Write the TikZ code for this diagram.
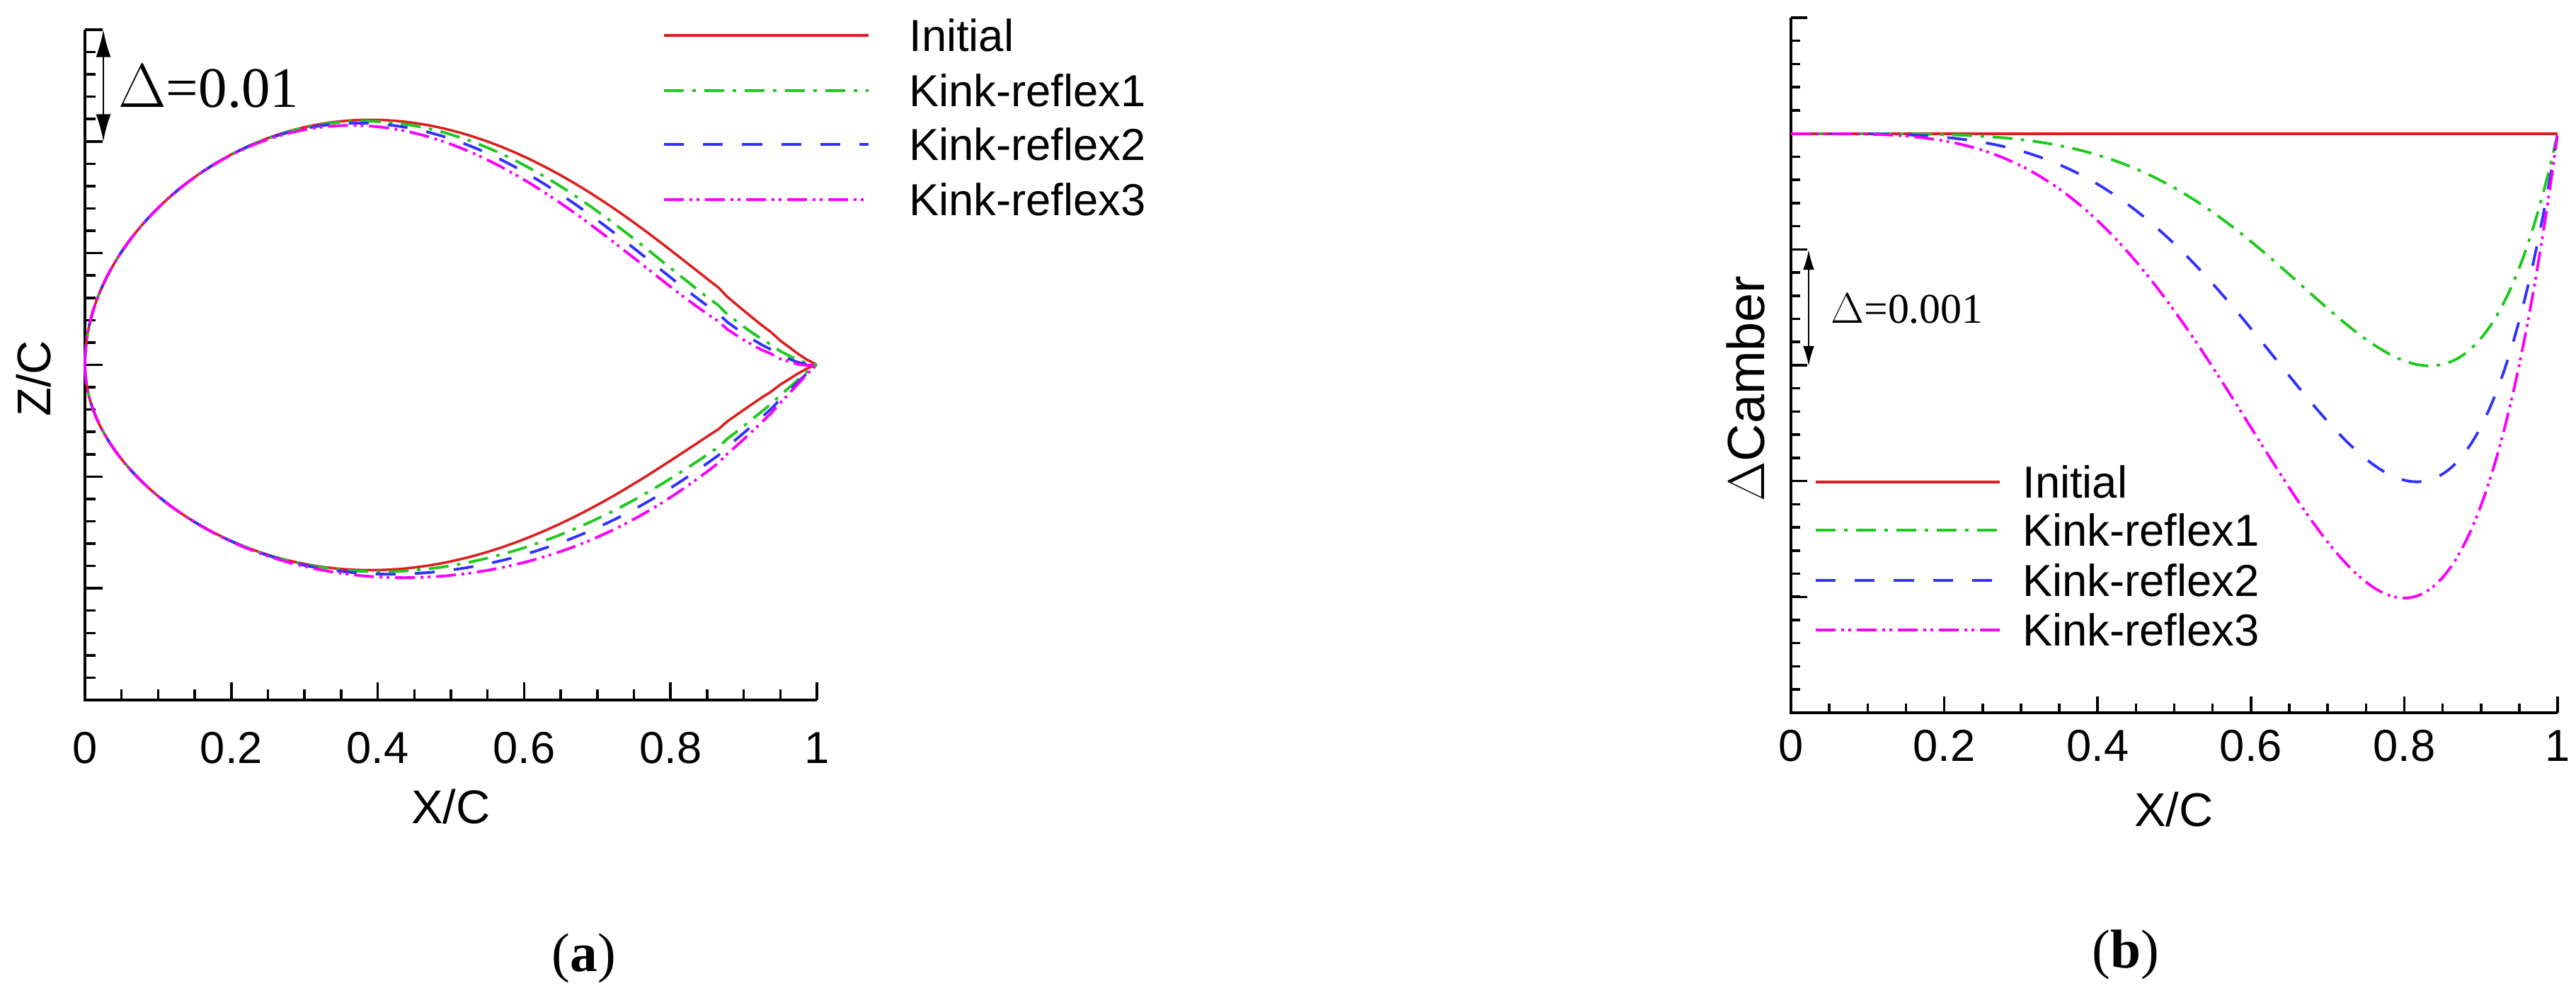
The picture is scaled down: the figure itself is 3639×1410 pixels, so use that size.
\documentclass[tikz,border=0pt]{standalone}
\usepackage{fontspec}
\setmainfont{Liberation Sans}
\newfontfamily\serifd{Liberation Serif}
\usetikzlibrary{arrows.meta}
\definecolor{cred}{RGB}{220,30,30}
\definecolor{cgreen}{RGB}{30,200,30}
\definecolor{cblue}{RGB}{50,50,250}
\definecolor{cmag}{RGB}{250,0,250}
\begin{document}
\begin{tikzpicture}[x=0.01cm,y=-0.01cm,
  declare function={gg(\s)=\s*pow(1-\s*\s,1.25)*(1+1.094*\s*\s)/0.4802;
    dA(\x)=\x*\x*\x*\x*\x*(1-\x)/0.06698;
    dB(\x)=0.5*(\x*\x*\x*\x+\x*\x*\x*\x*\x)*(1-\x)/0.0741;
    dC(\x)=\x*\x*\x*\x*(1-\x)/0.08192;},
  ini/.style={cred,line width=1pt},
  k1/.style={cgreen,line width=1.1pt,dash pattern=on 8pt off 3.4pt on 1.4pt off 3.4pt},
  k2/.style={cblue,line width=1.1pt,dash pattern=on 8pt off 7.7pt},
  k3/.style={cmag,line width=1.1pt,dash pattern=on 8pt off 2.3pt on 1.1pt off 1.7pt on 1.1pt off 2.3pt},
  ax/.style={black,line width=1.4pt},
  tk/.style={black,line width=1pt},
  tl/.style={font=\fontsize{18}{18}\selectfont},
  al/.style={font=\fontsize{19}{19}\selectfont},
  lg/.style={font=\fontsize{18}{18}\selectfont,anchor=west},
  subcap/.style={font=\serifd\fontsize{22}{22}\selectfont}]
\useasboundingbox (0,0) rectangle (3639,1410);
% ---------- left plot ----------
\foreach \i in {0,...,30}{\draw[tk] (120,{42+\i*31.567}) -- (135,{42+\i*31.567});}
\foreach \i in {0,...,6}{\draw[tk] (120,{42+\i*157.83}) -- (145,{42+\i*157.83});}
\foreach \i in {0,...,20}{\draw[tk] ({120+\i*51.7},989) -- ({120+\i*51.7},974);}
\foreach \i/\l in {0/0,1/0.2,2/0.4,3/0.6,4/0.8,5/1}{
  \draw[tk] ({120+\i*206.8},989) -- ({120+\i*206.8},964);
  \node[tl] (lx\i) at ({120+\i*206.8},1057) {\l};}
\draw[ax] (120,42) -- (120,989) -- (1154,989);
\node[al] (lxl) at (637,1140) {X/C};
\node[al,rotate=90] (lyl) at (48,535) {Z/C};
\node[subcap] (la) at (825,1354) {(\textbf{a})};
\coordinate (ta) at (146,42); \coordinate (tb) at (146,200);
\draw[line width=0.7pt,{Latex[length=11pt,width=6pt]}-{Latex[length=11pt,width=6pt]}] (ta) -- (tb);
\node[font=\serifd\fontsize{23}{23}\selectfont,anchor=west] (ld) at (155,122) {$\Delta$=0.01};
% airfoils
\draw[ini] plot[domain=0:0.99995,samples=160,variable=\s] ({120+1034*\s*\s},{515-345.6*gg(\s)}) -- (1154,515);
\draw[ini] plot[domain=0:0.99995,samples=160,variable=\s] ({120+1034*\s*\s},{515+290.4*gg(\s)}) -- (1154,515);
\draw[k1] plot[domain=0:0.99995,samples=160,variable=\s] ({120+1034*\s*\s},{515-345.6*gg(\s)+25.9*dA(\s*\s)}) -- (1154,515);
\draw[k1] plot[domain=0:0.99995,samples=160,variable=\s] ({120+1034*\s*\s},{515+290.4*gg(\s)+25.9*dA(\s*\s)}) -- (1154,515);
\draw[k2] plot[domain=0:0.99995,samples=160,variable=\s] ({120+1034*\s*\s},{515-345.6*gg(\s)+38.8*dB(\s*\s)}) -- (1154,515);
\draw[k2] plot[domain=0:0.99995,samples=160,variable=\s] ({120+1034*\s*\s},{515+290.4*gg(\s)+38.8*dB(\s*\s)}) -- (1154,515);
\draw[k3] plot[domain=0:0.99995,samples=160,variable=\s] ({120+1034*\s*\s},{515-345.6*gg(\s)+51.8*dC(\s*\s)}) -- (1154,515);
\draw[k3] plot[domain=0:0.99995,samples=160,variable=\s] ({120+1034*\s*\s},{515+290.4*gg(\s)+51.8*dC(\s*\s)}) -- (1154,515);
% left legend
\draw[ini] (938,50) -- (1227,50); \node[lg] (l1) at (1272,50) {Initial};
\draw[k1] (938,128) -- (1227,128); \node[lg] (l2) at (1272,128) {Kink-reflex1};
\draw[k2] (938,204) -- (1227,204); \node[lg] (l3) at (1272,204) {Kink-reflex2};
\draw[k3] (938,282) -- (1227,282); \node[lg] (l4) at (1272,282) {Kink-reflex3};
% ---------- right plot ----------
\foreach \i in {0,...,30}{\draw[tk] (2530,{25+\i*32.73}) -- (2543,{25+\i*32.73});}
\foreach \i in {0,...,6}{\draw[tk] (2530,{25+\i*163.67}) -- (2553,{25+\i*163.67});}
\foreach \i in {0,...,20}{\draw[tk] ({2530+\i*54.15},1007) -- ({2530+\i*54.15},994);}
\foreach \i/\l in {0/0,1/0.2,2/0.4,3/0.6,4/0.8,5/1}{
  \draw[tk] ({2530+\i*216.6},1007) -- ({2530+\i*216.6},984);
  \node[tl] (rx\i) at ({2530+\i*216.6},1054) {\l};}
\draw[ax] (2530,25) -- (2530,1007) -- (3613,1007);
\node[al] (rxl) at (3071,1144) {X/C};
\node[font=\fontsize{21}{21}\selectfont,rotate=90] (ryl) at (2466,549) {$\Delta$Camber};
\node[subcap] (rb) at (3003,1349) {(\textbf{b})};
\coordinate (tc) at (2555,353); \coordinate (td) at (2555,517);
\draw[line width=0.6pt,{Latex[length=8pt,width=4.5pt]}-{Latex[length=8pt,width=4.5pt]}] (tc) -- (td);
\node[font=\serifd\fontsize{17}{17}\selectfont,anchor=west] (rd) at (2574,436) {$\Delta$=0.001};
\draw[ini] (2530,189) -- (3613,189);
\draw[k1] plot[domain=0:1,samples=160,variable=\x] ({2530+1083*\x},{189+328*dA(\x)});
\draw[k2] plot[domain=0:1,samples=160,variable=\x] ({2530+1083*\x},{189+492*dB(\x)});
\draw[k3] plot[domain=0:1,samples=160,variable=\x] ({2530+1083*\x},{189+656*dC(\x)});
% right legend
\draw[ini] (2565,681) -- (2825,681); \node[lg] (r1) at (2845,681) {Initial};
\draw[k1] (2565,749) -- (2825,749); \node[lg] (r2) at (2845,749) {Kink-reflex1};
\draw[k2] (2565,820) -- (2825,820); \node[lg] (r3) at (2845,820) {Kink-reflex2};
\draw[k3] (2565,890) -- (2825,890); \node[lg] (r4) at (2845,890) {Kink-reflex3};
\end{tikzpicture}
\end{document}
